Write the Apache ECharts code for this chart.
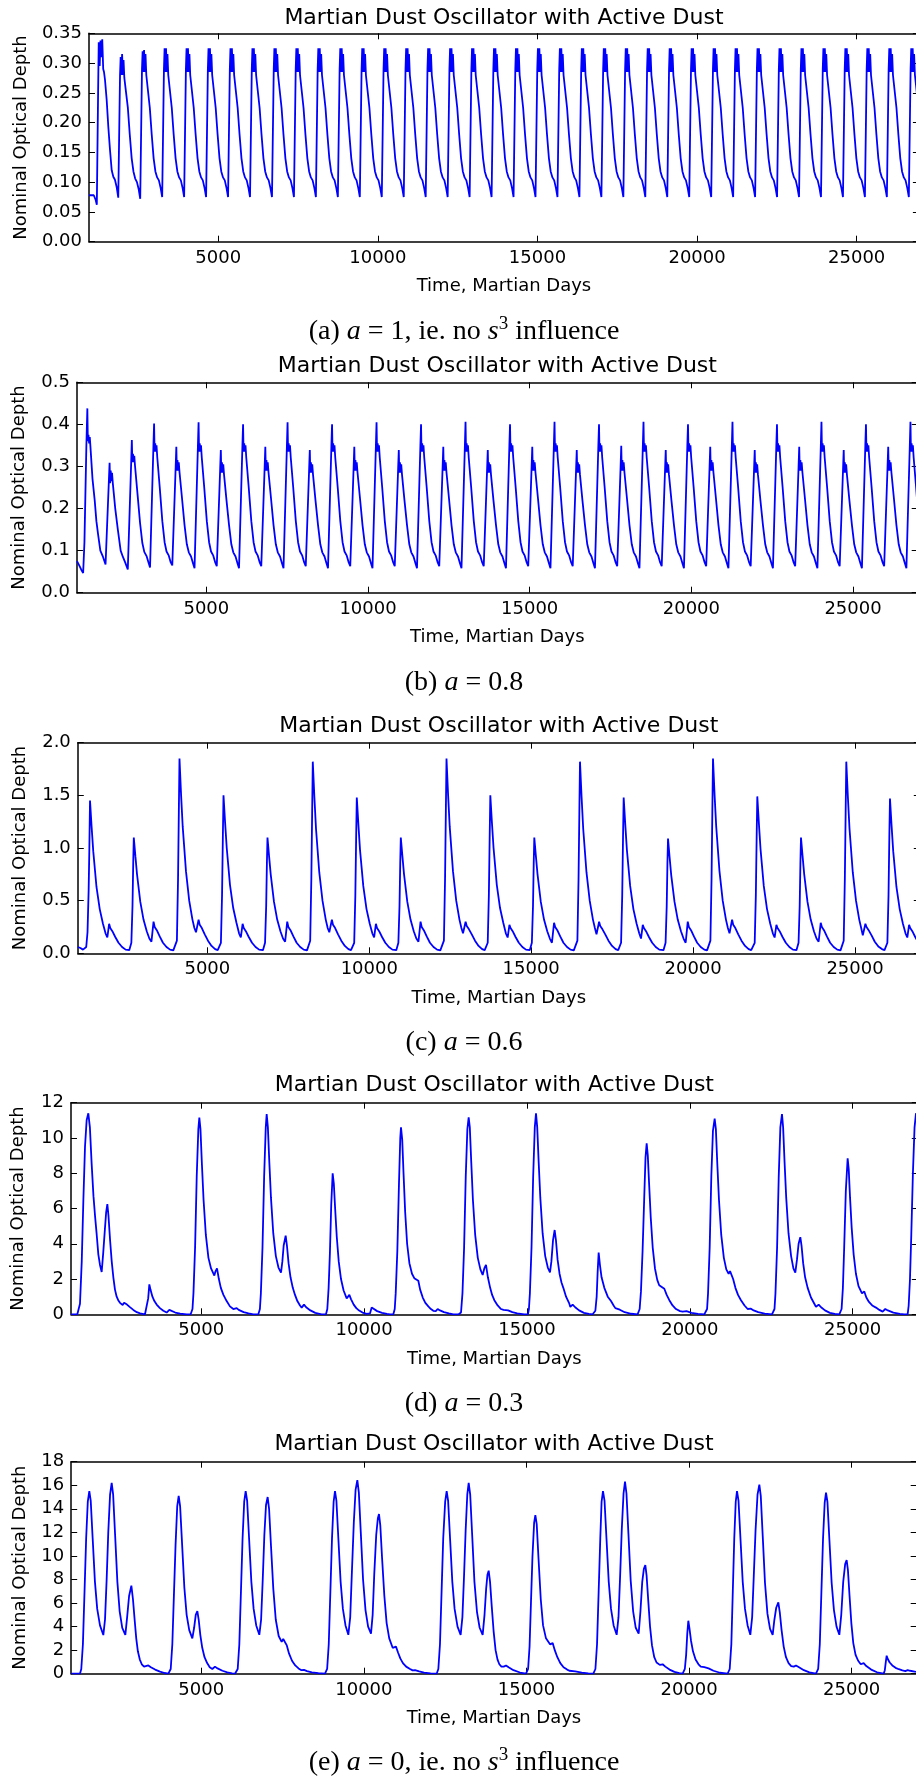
<!DOCTYPE html>
<html><head><meta charset="utf-8">
<script src="https://cdn.jsdelivr.net/npm/echarts@6/dist/echarts.min.js"></script>
<style>html,body{margin:0;padding:0;background:#fff}#c{width:916px;height:1780px}</style>
</head><body><div id="c"></div>
<script>
const xTickValues = [5000, 10000, 15000, 20000, 25000];
const chartTitle = 'Martian Dust Oscillator with Active Dust';
const xAxisTitle = 'Time, Martian Days';
const yAxisTitle = 'Nominal Optical Depth';
const captions = [
  '(a) {i|a} = 1, ie. no {i|s}{sup|3} influence',
  '(b) {i|a} = 0.8',
  '(c) {i|a} = 0.6',
  '(d) {i|a} = 0.3',
  '(e) {i|a} = 0, ie. no {i|s}{sup|3} influence'
];

// (a) a = 1  : [day, depth]
const depthA = [
[950,0.078],[1100,0.078],[1160,0.07],[1195,0.062],[1235,0.25],[1255,0.335],[1285,0.295],[1310,0.338],[1335,0.31],[1365,0.34],[1395,0.29],[1420,0.285],[1451,0.272],[1504,0.238],[1555,0.193],[1608,0.154],[1661,0.12],[1712,0.109],[1763,0.104],[1816,0.092],
[1867,0.074],[1922,0.28],[1942,0.31],[1962,0.28],[1987,0.315],[2012,0.28],[2032,0.305],[2057,0.275],[2167,0.225],[2227,0.18],[2287,0.14],[2342,0.118],[2397,0.106],[2452,0.1],[2507,0.088],
[2555,0.072],[2610,0.29],[2630,0.32],[2650,0.285],[2675,0.322],[2700,0.285],[2720,0.315],[2745,0.28],[2855,0.225],[2915,0.18],[2975,0.14],[3030,0.118],[3085,0.108],[3140,0.103],[3195,0.09],
[3243,0.075],[3298,0.29],[3318,0.325],[3338,0.285],[3363,0.325],[3388,0.285],[3408,0.315],[3433,0.28],[3543,0.225],[3603,0.18],[3663,0.14],[3718,0.118],[3773,0.108],[3828,0.103],[3883,0.09],
[3931,0.075],[3986,0.29],[4006,0.325],[4026,0.285],[4051,0.325],[4076,0.285],[4096,0.315],[4121,0.28],[4231,0.225],[4291,0.18],[4351,0.14],[4406,0.118],[4461,0.108],[4516,0.103],[4571,0.09],
[4619,0.075],[4674,0.29],[4694,0.325],[4714,0.285],[4739,0.325],[4764,0.285],[4784,0.315],[4809,0.28],[4919,0.225],[4979,0.18],[5039,0.14],[5094,0.118],[5149,0.108],[5204,0.103],[5259,0.09],
[5307,0.075],[5362,0.29],[5382,0.325],[5402,0.285],[5427,0.325],[5452,0.285],[5472,0.315],[5497,0.28],[5607,0.225],[5667,0.18],[5727,0.14],[5782,0.118],[5837,0.108],[5892,0.103],[5947,0.09],
[5995,0.075],[6050,0.29],[6070,0.325],[6090,0.285],[6115,0.325],[6140,0.285],[6160,0.315],[6185,0.28],[6295,0.225],[6355,0.18],[6415,0.14],[6470,0.118],[6525,0.108],[6580,0.103],[6635,0.09],
[6683,0.075],[6738,0.29],[6758,0.325],[6778,0.285],[6803,0.325],[6828,0.285],[6848,0.315],[6873,0.28],[6983,0.225],[7043,0.18],[7103,0.14],[7158,0.118],[7213,0.108],[7268,0.103],[7323,0.09],
[7371,0.075],[7426,0.29],[7446,0.325],[7466,0.285],[7491,0.325],[7516,0.285],[7536,0.315],[7561,0.28],[7671,0.225],[7731,0.18],[7791,0.14],[7846,0.118],[7901,0.108],[7956,0.103],[8011,0.09],
[8059,0.075],[8114,0.29],[8134,0.325],[8154,0.285],[8179,0.325],[8204,0.285],[8224,0.315],[8249,0.28],[8359,0.225],[8419,0.18],[8479,0.14],[8534,0.118],[8589,0.108],[8644,0.103],[8699,0.09],
[8747,0.075],[8802,0.29],[8822,0.325],[8842,0.285],[8867,0.325],[8892,0.285],[8912,0.315],[8937,0.28],[9047,0.225],[9107,0.18],[9167,0.14],[9222,0.118],[9277,0.108],[9332,0.103],[9387,0.09],
[9435,0.075],[9490,0.29],[9510,0.325],[9530,0.285],[9555,0.325],[9580,0.285],[9600,0.315],[9625,0.28],[9735,0.225],[9795,0.18],[9855,0.14],[9910,0.118],[9965,0.108],[10020,0.103],[10075,0.09],
[10123,0.075],[10178,0.29],[10198,0.325],[10218,0.285],[10243,0.325],[10268,0.285],[10288,0.315],[10313,0.28],[10423,0.225],[10483,0.18],[10543,0.14],[10598,0.118],[10653,0.108],[10708,0.103],[10763,0.09],
[10811,0.075],[10866,0.29],[10886,0.325],[10906,0.285],[10931,0.325],[10956,0.285],[10976,0.315],[11001,0.28],[11111,0.225],[11171,0.18],[11231,0.14],[11286,0.118],[11341,0.108],[11396,0.103],[11451,0.09],
[11499,0.075],[11554,0.29],[11574,0.325],[11594,0.285],[11619,0.325],[11644,0.285],[11664,0.315],[11689,0.28],[11799,0.225],[11859,0.18],[11919,0.14],[11974,0.118],[12029,0.108],[12084,0.103],[12139,0.09],
[12187,0.075],[12242,0.29],[12262,0.325],[12282,0.285],[12307,0.325],[12332,0.285],[12352,0.315],[12377,0.28],[12487,0.225],[12547,0.18],[12607,0.14],[12662,0.118],[12717,0.108],[12772,0.103],[12827,0.09],
[12875,0.075],[12930,0.29],[12950,0.325],[12970,0.285],[12995,0.325],[13020,0.285],[13040,0.315],[13065,0.28],[13175,0.225],[13235,0.18],[13295,0.14],[13350,0.118],[13405,0.108],[13460,0.103],[13515,0.09],
[13563,0.075],[13618,0.29],[13638,0.325],[13658,0.285],[13683,0.325],[13708,0.285],[13728,0.315],[13753,0.28],[13863,0.225],[13923,0.18],[13983,0.14],[14038,0.118],[14093,0.108],[14148,0.103],[14203,0.09],
[14251,0.075],[14306,0.29],[14326,0.325],[14346,0.285],[14371,0.325],[14396,0.285],[14416,0.315],[14441,0.28],[14551,0.225],[14611,0.18],[14671,0.14],[14726,0.118],[14781,0.108],[14836,0.103],[14891,0.09],
[14939,0.075],[14994,0.29],[15014,0.325],[15034,0.285],[15059,0.325],[15084,0.285],[15104,0.315],[15129,0.28],[15239,0.225],[15299,0.18],[15359,0.14],[15414,0.118],[15469,0.108],[15524,0.103],[15579,0.09],
[15627,0.075],[15682,0.29],[15702,0.325],[15722,0.285],[15747,0.325],[15772,0.285],[15792,0.315],[15817,0.28],[15927,0.225],[15987,0.18],[16047,0.14],[16102,0.118],[16157,0.108],[16212,0.103],[16267,0.09],
[16315,0.075],[16370,0.29],[16390,0.325],[16410,0.285],[16435,0.325],[16460,0.285],[16480,0.315],[16505,0.28],[16615,0.225],[16675,0.18],[16735,0.14],[16790,0.118],[16845,0.108],[16900,0.103],[16955,0.09],
[17003,0.075],[17058,0.29],[17078,0.325],[17098,0.285],[17123,0.325],[17148,0.285],[17168,0.315],[17193,0.28],[17303,0.225],[17363,0.18],[17423,0.14],[17478,0.118],[17533,0.108],[17588,0.103],[17643,0.09],
[17691,0.075],[17746,0.29],[17766,0.325],[17786,0.285],[17811,0.325],[17836,0.285],[17856,0.315],[17881,0.28],[17991,0.225],[18051,0.18],[18111,0.14],[18166,0.118],[18221,0.108],[18276,0.103],[18331,0.09],
[18379,0.075],[18434,0.29],[18454,0.325],[18474,0.285],[18499,0.325],[18524,0.285],[18544,0.315],[18569,0.28],[18679,0.225],[18739,0.18],[18799,0.14],[18854,0.118],[18909,0.108],[18964,0.103],[19019,0.09],
[19067,0.075],[19122,0.29],[19142,0.325],[19162,0.285],[19187,0.325],[19212,0.285],[19232,0.315],[19257,0.28],[19367,0.225],[19427,0.18],[19487,0.14],[19542,0.118],[19597,0.108],[19652,0.103],[19707,0.09],
[19755,0.075],[19810,0.29],[19830,0.325],[19850,0.285],[19875,0.325],[19900,0.285],[19920,0.315],[19945,0.28],[20055,0.225],[20115,0.18],[20175,0.14],[20230,0.118],[20285,0.108],[20340,0.103],[20395,0.09],
[20443,0.075],[20498,0.29],[20518,0.325],[20538,0.285],[20563,0.325],[20588,0.285],[20608,0.315],[20633,0.28],[20743,0.225],[20803,0.18],[20863,0.14],[20918,0.118],[20973,0.108],[21028,0.103],[21083,0.09],
[21131,0.075],[21186,0.29],[21206,0.325],[21226,0.285],[21251,0.325],[21276,0.285],[21296,0.315],[21321,0.28],[21431,0.225],[21491,0.18],[21551,0.14],[21606,0.118],[21661,0.108],[21716,0.103],[21771,0.09],
[21819,0.075],[21874,0.29],[21894,0.325],[21914,0.285],[21939,0.325],[21964,0.285],[21984,0.315],[22009,0.28],[22119,0.225],[22179,0.18],[22239,0.14],[22294,0.118],[22349,0.108],[22404,0.103],[22459,0.09],
[22507,0.075],[22562,0.29],[22582,0.325],[22602,0.285],[22627,0.325],[22652,0.285],[22672,0.315],[22697,0.28],[22807,0.225],[22867,0.18],[22927,0.14],[22982,0.118],[23037,0.108],[23092,0.103],[23147,0.09],
[23195,0.075],[23250,0.29],[23270,0.325],[23290,0.285],[23315,0.325],[23340,0.285],[23360,0.315],[23385,0.28],[23495,0.225],[23555,0.18],[23615,0.14],[23670,0.118],[23725,0.108],[23780,0.103],[23835,0.09],
[23883,0.075],[23938,0.29],[23958,0.325],[23978,0.285],[24003,0.325],[24028,0.285],[24048,0.315],[24073,0.28],[24183,0.225],[24243,0.18],[24303,0.14],[24358,0.118],[24413,0.108],[24468,0.103],[24523,0.09],
[24571,0.075],[24626,0.29],[24646,0.325],[24666,0.285],[24691,0.325],[24716,0.285],[24736,0.315],[24761,0.28],[24871,0.225],[24931,0.18],[24991,0.14],[25046,0.118],[25101,0.108],[25156,0.103],[25211,0.09],
[25259,0.075],[25314,0.29],[25334,0.325],[25354,0.285],[25379,0.325],[25404,0.285],[25424,0.315],[25449,0.28],[25559,0.225],[25619,0.18],[25679,0.14],[25734,0.118],[25789,0.108],[25844,0.103],[25899,0.09],
[25947,0.075],[26002,0.29],[26022,0.325],[26042,0.285],[26067,0.325],[26092,0.285],[26112,0.315],[26137,0.28],[26247,0.225],[26307,0.18],[26367,0.14],[26422,0.118],[26477,0.108],[26532,0.103],[26587,0.09],
[26635,0.075],[26690,0.29],[26710,0.325],[26730,0.285],[26755,0.325],[26780,0.285],[26800,0.315],[26825,0.28],[26935,0.225],[26995,0.18]
];

// (b) a = 0.8
const depthB = [
[1000,0.075],[1080,0.063],[1150,0.052],[1190,0.047],[1230,0.12],[1290,0.35],[1320,0.438],[1335,0.36],[1355,0.375],[1375,0.355],[1395,0.37],[1413,0.35],[1480,0.27],[1547,0.22],[1600,0.17],[1650,0.14],[1722,0.1],[1805,0.085],
[1883,0.067],[1988,0.27],[2008,0.309],[2023,0.26],[2043,0.29],[2063,0.265],[2083,0.285],[2108,0.26],[2183,0.2],[2263,0.15],[2350,0.1],[2420,0.085],[2490,0.072],
[2571,0.055],[2676,0.31],[2696,0.363],[2711,0.31],[2731,0.33],[2751,0.31],[2771,0.325],[2796,0.3],[2871,0.235],[2951,0.165],[3021,0.118],[3081,0.097],[3151,0.087],[3211,0.072],
[3259,0.06],[3364,0.35],[3384,0.402],[3399,0.335],[3419,0.355],[3439,0.335],[3459,0.35],[3484,0.32],[3559,0.25],[3639,0.17],[3709,0.12],[3769,0.098],[3839,0.088],[3899,0.072],
[3947,0.065],[4052,0.3],[4072,0.347],[4087,0.29],[4107,0.315],[4127,0.29],[4147,0.31],[4172,0.285],[4247,0.225],[4327,0.16],[4397,0.115],[4457,0.096],[4527,0.086],[4587,0.07],
[4635,0.058],[4740,0.35],[4760,0.405],[4775,0.335],[4795,0.355],[4815,0.335],[4835,0.35],[4860,0.32],[4935,0.25],[5015,0.17],[5085,0.12],[5145,0.098],[5215,0.088],[5275,0.072],
[5323,0.063],[5428,0.295],[5448,0.339],[5463,0.285],[5483,0.31],[5503,0.285],[5523,0.305],[5548,0.28],[5623,0.22],[5703,0.16],[5773,0.115],[5833,0.096],[5903,0.086],[5963,0.07],
[6011,0.058],[6116,0.35],[6136,0.4],[6151,0.335],[6171,0.355],[6191,0.335],[6211,0.35],[6236,0.32],[6311,0.25],[6391,0.17],[6461,0.12],[6521,0.098],[6591,0.088],[6651,0.072],
[6699,0.063],[6804,0.3],[6824,0.347],[6839,0.29],[6859,0.315],[6879,0.29],[6899,0.31],[6924,0.285],[6999,0.225],[7079,0.16],[7149,0.115],[7209,0.096],[7279,0.086],[7339,0.07],
[7387,0.058],[7492,0.35],[7512,0.405],[7527,0.335],[7547,0.355],[7567,0.335],[7587,0.35],[7612,0.32],[7687,0.25],[7767,0.17],[7837,0.12],[7897,0.098],[7967,0.088],[8027,0.072],
[8075,0.063],[8180,0.295],[8200,0.339],[8215,0.285],[8235,0.31],[8255,0.285],[8275,0.305],[8300,0.28],[8375,0.22],[8455,0.16],[8525,0.115],[8585,0.096],[8655,0.086],[8715,0.07],
[8763,0.058],[8868,0.35],[8888,0.4],[8903,0.335],[8923,0.355],[8943,0.335],[8963,0.35],[8988,0.32],[9063,0.25],[9143,0.17],[9213,0.12],[9273,0.098],[9343,0.088],[9403,0.072],
[9451,0.063],[9556,0.3],[9576,0.347],[9591,0.29],[9611,0.315],[9631,0.29],[9651,0.31],[9676,0.285],[9751,0.225],[9831,0.16],[9901,0.115],[9961,0.096],[10031,0.086],[10091,0.07],
[10139,0.058],[10244,0.35],[10264,0.405],[10279,0.335],[10299,0.355],[10319,0.335],[10339,0.35],[10364,0.32],[10439,0.25],[10519,0.17],[10589,0.12],[10649,0.098],[10719,0.088],[10779,0.072],
[10827,0.063],[10932,0.295],[10952,0.339],[10967,0.285],[10987,0.31],[11007,0.285],[11027,0.305],[11052,0.28],[11127,0.22],[11207,0.16],[11277,0.115],[11337,0.096],[11407,0.086],[11467,0.07],
[11515,0.058],[11620,0.35],[11640,0.4],[11655,0.335],[11675,0.355],[11695,0.335],[11715,0.35],[11740,0.32],[11815,0.25],[11895,0.17],[11965,0.12],[12025,0.098],[12095,0.088],[12155,0.072],
[12203,0.063],[12308,0.3],[12328,0.347],[12343,0.29],[12363,0.315],[12383,0.29],[12403,0.31],[12428,0.285],[12503,0.225],[12583,0.16],[12653,0.115],[12713,0.096],[12783,0.086],[12843,0.07],
[12891,0.058],[12996,0.35],[13016,0.406],[13031,0.335],[13051,0.355],[13071,0.335],[13091,0.35],[13116,0.32],[13191,0.25],[13271,0.17],[13341,0.12],[13401,0.098],[13471,0.088],[13531,0.072],
[13579,0.063],[13684,0.295],[13704,0.339],[13719,0.285],[13739,0.31],[13759,0.285],[13779,0.305],[13804,0.28],[13879,0.22],[13959,0.16],[14029,0.115],[14089,0.096],[14159,0.086],[14219,0.07],
[14267,0.058],[14372,0.35],[14392,0.4],[14407,0.335],[14427,0.355],[14447,0.335],[14467,0.35],[14492,0.32],[14567,0.25],[14647,0.17],[14717,0.12],[14777,0.098],[14847,0.088],[14907,0.072],
[14955,0.063],[15060,0.3],[15080,0.347],[15095,0.29],[15115,0.315],[15135,0.29],[15155,0.31],[15180,0.285],[15255,0.225],[15335,0.16],[15405,0.115],[15465,0.096],[15535,0.086],[15595,0.07],
[15643,0.058],[15748,0.35],[15768,0.406],[15783,0.335],[15803,0.355],[15823,0.335],[15843,0.35],[15868,0.32],[15943,0.25],[16023,0.17],[16093,0.12],[16153,0.098],[16223,0.088],[16283,0.072],
[16331,0.063],[16436,0.295],[16456,0.339],[16471,0.285],[16491,0.31],[16511,0.285],[16531,0.305],[16556,0.28],[16631,0.22],[16711,0.16],[16781,0.115],[16841,0.096],[16911,0.086],[16971,0.07],
[17019,0.058],[17124,0.35],[17144,0.4],[17159,0.335],[17179,0.355],[17199,0.335],[17219,0.35],[17244,0.32],[17319,0.25],[17399,0.17],[17469,0.12],[17529,0.098],[17599,0.088],[17659,0.072],
[17707,0.063],[17812,0.3],[17832,0.349],[17847,0.29],[17867,0.315],[17887,0.29],[17907,0.31],[17932,0.285],[18007,0.225],[18087,0.16],[18157,0.115],[18217,0.096],[18287,0.086],[18347,0.07],
[18395,0.058],[18500,0.35],[18520,0.406],[18535,0.335],[18555,0.355],[18575,0.335],[18595,0.35],[18620,0.32],[18695,0.25],[18775,0.17],[18845,0.12],[18905,0.098],[18975,0.088],[19035,0.072],
[19083,0.063],[19188,0.295],[19208,0.339],[19223,0.285],[19243,0.31],[19263,0.285],[19283,0.305],[19308,0.28],[19383,0.22],[19463,0.16],[19533,0.115],[19593,0.096],[19663,0.086],[19723,0.07],
[19771,0.058],[19876,0.35],[19896,0.4],[19911,0.335],[19931,0.355],[19951,0.335],[19971,0.35],[19996,0.32],[20071,0.25],[20151,0.17],[20221,0.12],[20281,0.098],[20351,0.088],[20411,0.072],
[20459,0.063],[20564,0.3],[20584,0.347],[20599,0.29],[20619,0.315],[20639,0.29],[20659,0.31],[20684,0.285],[20759,0.225],[20839,0.16],[20909,0.115],[20969,0.096],[21039,0.086],[21099,0.07],
[21147,0.058],[21252,0.35],[21272,0.406],[21287,0.335],[21307,0.355],[21327,0.335],[21347,0.35],[21372,0.32],[21447,0.25],[21527,0.17],[21597,0.12],[21657,0.098],[21727,0.088],[21787,0.072],
[21835,0.063],[21940,0.295],[21960,0.339],[21975,0.285],[21995,0.31],[22015,0.285],[22035,0.305],[22060,0.28],[22135,0.22],[22215,0.16],[22285,0.115],[22345,0.096],[22415,0.086],[22475,0.07],
[22523,0.058],[22628,0.35],[22648,0.4],[22663,0.335],[22683,0.355],[22703,0.335],[22723,0.35],[22748,0.32],[22823,0.25],[22903,0.17],[22973,0.12],[23033,0.098],[23103,0.088],[23163,0.072],
[23211,0.063],[23316,0.3],[23336,0.347],[23351,0.29],[23371,0.315],[23391,0.29],[23411,0.31],[23436,0.285],[23511,0.225],[23591,0.16],[23661,0.115],[23721,0.096],[23791,0.086],[23851,0.07],
[23899,0.058],[24004,0.35],[24024,0.406],[24039,0.335],[24059,0.355],[24079,0.335],[24099,0.35],[24124,0.32],[24199,0.25],[24279,0.17],[24349,0.12],[24409,0.098],[24479,0.088],[24539,0.072],
[24587,0.063],[24692,0.295],[24712,0.339],[24727,0.285],[24747,0.31],[24767,0.285],[24787,0.305],[24812,0.28],[24887,0.22],[24967,0.16],[25037,0.115],[25097,0.096],[25167,0.086],[25227,0.07],
[25275,0.058],[25380,0.35],[25400,0.4],[25415,0.335],[25435,0.355],[25455,0.335],[25475,0.35],[25500,0.32],[25575,0.25],[25655,0.17],[25725,0.12],[25785,0.098],[25855,0.088],[25915,0.072],
[25963,0.063],[26068,0.3],[26088,0.347],[26103,0.29],[26123,0.315],[26143,0.29],[26163,0.31],[26188,0.285],[26263,0.225],[26343,0.16],[26413,0.115],[26473,0.096],[26543,0.086],[26603,0.07],
[26651,0.058],[26756,0.35],[26776,0.406],[26791,0.335],[26811,0.355],[26831,0.335],[26851,0.35],[26876,0.32],[26951,0.25],[27031,0.17]
];

// (c) a = 0.6
const depthC = [
[1000,0.06],[1080,0.05],[1160,0.035],[1220,0.03],[1260,0.06],[1300,0.2],[1335,0.6],[1357,1.0],[1377,1.45],
[1427,1.2],[1477,0.97],[1577,0.63],[1677,0.42],[1777,0.28],[1857,0.19],[1912,0.15],[1967,0.28],[2002,0.24],[2067,0.21],[2157,0.155],[2257,0.1],[2367,0.06],[2477,0.035],
[2589,0.03],[2654,0.1],[2689,0.45],[2711,0.85],[2729,1.1],
[2779,0.92],[2829,0.75],[2929,0.49],[3029,0.32],[3129,0.21],[3209,0.14],[3274,0.11],[3339,0.3],[3374,0.25],[3439,0.22],[3529,0.16],[3629,0.1],[3739,0.06],[3849,0.035],[3949,0.028],
[3990,0.03],[4060,0.12],[4095,0.7],[4120,1.35],[4140,1.85],
[4190,1.5],[4240,1.2],[4340,0.78],[4440,0.5],[4540,0.32],[4600,0.24],[4650,0.2],[4730,0.32],[4765,0.27],[4830,0.24],[4920,0.18],[5020,0.12],[5130,0.07],[5240,0.04],[5320,0.03],
[5359,0.03],[5419,0.1],[5454,0.55],[5479,1.1],[5499,1.5],
[5549,1.24],[5599,1.0],[5699,0.65],[5799,0.43],[5899,0.29],[5979,0.19],[6034,0.15],[6089,0.28],[6124,0.24],[6189,0.21],[6279,0.155],[6379,0.1],[6489,0.06],[6599,0.035],
[6717,0.03],[6782,0.1],[6817,0.45],[6839,0.85],[6857,1.1],
[6907,0.92],[6957,0.75],[7057,0.49],[7157,0.32],[7257,0.21],[7337,0.14],[7402,0.11],[7467,0.3],[7502,0.25],[7567,0.22],[7657,0.16],[7757,0.1],[7867,0.06],[7977,0.035],[8077,0.028],
[8106,0.03],[8176,0.12],[8211,0.7],[8236,1.33],[8256,1.82],
[8306,1.48],[8356,1.18],[8456,0.77],[8556,0.5],[8656,0.32],[8716,0.24],[8766,0.2],[8846,0.32],[8881,0.27],[8946,0.24],[9036,0.18],[9136,0.12],[9246,0.07],[9356,0.04],[9436,0.03],
[9475,0.03],[9535,0.1],[9570,0.55],[9595,1.1],[9615,1.48],
[9665,1.22],[9715,0.98],[9815,0.64],[9915,0.42],[10015,0.28],[10095,0.19],[10150,0.15],[10205,0.28],[10240,0.24],[10305,0.21],[10395,0.155],[10495,0.1],[10605,0.06],[10715,0.035],
[10834,0.03],[10899,0.1],[10934,0.45],[10956,0.85],[10974,1.1],
[11024,0.92],[11074,0.75],[11174,0.49],[11274,0.32],[11374,0.21],[11454,0.14],[11519,0.11],[11584,0.3],[11619,0.25],[11684,0.22],[11774,0.16],[11874,0.1],[11984,0.06],[12094,0.035],[12194,0.028],
[12235,0.03],[12305,0.12],[12340,0.7],[12365,1.35],[12385,1.85],
[12435,1.5],[12485,1.2],[12585,0.78],[12685,0.5],[12785,0.32],[12845,0.24],[12895,0.19],[12975,0.3],[13010,0.26],[13075,0.23],[13165,0.18],[13265,0.12],[13375,0.07],[13485,0.04],[13565,0.03],
[13598,0.03],[13658,0.1],[13693,0.55],[13718,1.1],[13738,1.5],
[13788,1.24],[13838,1.0],[13938,0.65],[14038,0.43],[14138,0.29],[14218,0.19],[14273,0.15],[14328,0.27],[14363,0.24],[14428,0.21],[14518,0.155],[14618,0.1],[14728,0.06],[14838,0.035],
[14956,0.03],[15021,0.1],[15056,0.45],[15078,0.85],[15096,1.1],
[15146,0.92],[15196,0.75],[15296,0.49],[15396,0.32],[15496,0.21],[15576,0.14],[15641,0.1],[15706,0.29],[15741,0.25],[15806,0.22],[15896,0.16],[15996,0.1],[16106,0.06],[16216,0.035],[16316,0.028],
[16357,0.03],[16427,0.12],[16462,0.7],[16487,1.33],[16507,1.82],
[16557,1.48],[16607,1.18],[16707,0.77],[16807,0.5],[16907,0.32],[16967,0.24],[17017,0.18],[17097,0.3],[17132,0.26],[17197,0.23],[17287,0.18],[17387,0.12],[17497,0.07],[17607,0.04],[17687,0.03],
[17716,0.03],[17776,0.1],[17811,0.55],[17836,1.1],[17856,1.48],
[17906,1.22],[17956,0.98],[18056,0.64],[18156,0.42],[18256,0.28],[18336,0.19],[18391,0.14],[18446,0.27],[18481,0.24],[18546,0.21],[18636,0.155],[18736,0.1],[18846,0.06],[18956,0.035],
[19085,0.03],[19150,0.1],[19185,0.45],[19207,0.85],[19225,1.09],
[19275,0.91],[19325,0.74],[19425,0.49],[19525,0.32],[19625,0.21],[19705,0.14],[19770,0.1],[19835,0.3],[19870,0.25],[19935,0.22],[20025,0.16],[20125,0.1],[20235,0.06],[20345,0.035],[20430,0.028],
[20464,0.03],[20534,0.12],[20569,0.7],[20594,1.35],[20614,1.85],
[20664,1.5],[20714,1.2],[20814,0.78],[20914,0.5],[21014,0.32],[21074,0.24],[21124,0.19],[21204,0.32],[21239,0.27],[21304,0.24],[21394,0.18],[21494,0.12],[21604,0.07],[21714,0.04],[21794,0.03],
[21842,0.03],[21902,0.1],[21937,0.55],[21962,1.1],[21982,1.49],
[22032,1.23],[22082,0.99],[22182,0.64],[22282,0.42],[22382,0.28],[22462,0.19],[22517,0.15],[22572,0.27],[22607,0.24],[22672,0.21],[22762,0.155],[22862,0.1],[22972,0.06],[23082,0.035],
[23191,0.03],[23256,0.1],[23291,0.45],[23313,0.85],[23331,1.1],
[23381,0.92],[23431,0.75],[23531,0.49],[23631,0.32],[23731,0.21],[23811,0.14],[23876,0.11],[23941,0.29],[23976,0.25],[24041,0.22],[24131,0.16],[24231,0.1],[24341,0.06],[24451,0.035],[24551,0.028],
[24580,0.03],[24650,0.12],[24685,0.7],[24710,1.33],[24730,1.82],
[24780,1.48],[24830,1.18],[24930,0.77],[25030,0.5],[25130,0.32],[25190,0.24],[25240,0.17],[25320,0.28],[25355,0.25],[25420,0.22],[25510,0.17],[25610,0.11],[25720,0.065],[25830,0.04],[25910,0.03],
[25939,0.03],[25999,0.1],[26034,0.55],[26059,1.1],[26079,1.47],
[26129,1.21],[26179,0.97],[26279,0.63],[26379,0.42],[26479,0.28],[26559,0.19],[26614,0.15],[26669,0.27],[26704,0.24],[26769,0.21],[26859,0.155],[26959,0.1],[27050,0.07]
];

// (d) a = 0.3
const depthD = [
[1000,0],[1194,0],[1276,0.6],[1330,3],[1380,6.5],[1430,9.5],[1480,11],[1532,11.4],[1580,10.6],[1635,8.5],[1690,6.7],[1737,5.6],[1790,4.5],[1839,3.4],[1890,2.8],[1942,2.4],[1990,3.5],[2040,4.8],[2080,5.8],[2116,6.25],[2150,5.6],[2200,4.2],[2250,3],[2300,2.1],[2350,1.4],[2402,1],[2450,0.8],[2504,0.65],[2586,0.53],[2630,0.65],[2658,0.72],[2720,0.55],[2800,0.42],[2914,0.25],[3020,0.12],[3119,0.05],[3272,0],
[3320,0.1],[3370,0.9],[3405,1.7],[3440,1.4],[3500,1],[3560,0.75],[3630,0.55],[3730,0.35],[3835,0.2],[3937,0.1],[3980,0.12],[4019,0.25],[4080,0.18],[4200,0.1],[4350,0.04],[4551,0],[4674,0],
[4730,0.3],[4760,1.2],[4810,3.8],[4860,7.8],[4910,10.5],[4940,11.15],[4975,10.5],[5020,8.5],[5070,6.5],[5140,4.5],[5220,3.2],[5300,2.6],[5401,2.2],[5440,2.45],[5483,2.6],[5540,2],[5600,1.5],[5680,1.1],[5779,0.75],[5880,0.45],[5984,0.3],[6035,0.22],[6087,0.35],[6150,0.25],[6300,0.12],[6450,0.05],[6598,0],[6752,0],
[6800,0.3],[6830,1.2],[6880,3.8],[6930,7.8],[6980,10.6],[7008,11.35],[7045,10.6],[7090,8.6],[7140,6.6],[7210,4.6],[7290,3.3],[7370,2.65],[7448,2.36],[7490,3],[7530,3.9],[7591,4.46],[7630,3.9],[7680,2.9],[7740,2.1],[7810,1.5],[7878,1.1],[7950,0.75],[8031,0.5],[8082,0.38],[8154,0.55],[8220,0.4],[8350,0.22],[8500,0.08],[8696,0],[8829,0],
[8870,0.3],[8910,1.5],[8950,3.5],[8990,6.2],[9034,8],[9070,7.4],[9110,6],[9160,4.4],[9220,3],[9290,2],[9370,1.35],[9464,0.9],[9500,1],[9546,1.1],[9600,0.85],[9680,0.55],[9760,0.35],[9822,0.25],[9950,0.1],[10078,0.02],[10180,0.05],[10232,0.38],[10290,0.3],[10400,0.18],[10550,0.08],[10700,0.02],[10794,0],[10897,0],
[10940,0.3],[10970,1.2],[11020,3.6],[11070,7.4],[11110,10],[11132,10.6],[11170,9.9],[11210,8],[11260,5.8],[11320,4],[11390,2.9],[11470,2.3],[11540,2.05],[11593,1.95],[11664,1.9],[11720,1.4],[11800,0.95],[11880,0.65],[11971,0.45],[12050,0.3],[12125,0.2],[12200,0.18],[12258,0.3],[12330,0.22],[12450,0.12],[12600,0.05],[12739,0],[12903,0],
[12975,0.1],[13020,1.2],[13070,3.8],[13120,7.8],[13170,10.5],[13210,11.17],[13245,10.6],[13290,8.6],[13340,6.5],[13410,4.5],[13490,3.2],[13570,2.55],[13640,2.23],[13690,2.6],[13742,2.8],[13800,2.1],[13870,1.5],[13930,1.1],[13998,0.8],[14100,0.5],[14203,0.3],[14280,0.25],[14336,0.32],[14420,0.22],[14550,0.12],[14700,0.05],[14919,0],[15030,0],
[15060,0.3],[15090,1.2],[15140,3.8],[15190,7.8],[15240,10.6],[15277,11.4],[15315,10.6],[15360,8.6],[15410,6.6],[15480,4.6],[15560,3.3],[15640,2.65],[15707,2.38],[15750,3],[15800,4.2],[15850,4.78],[15890,4.2],[15940,3.1],[16000,2.3],[16060,1.8],[16116,1.5],[16200,1],[16301,0.6],[16331,0.42],[16403,0.55],[16480,0.4],[16600,0.22],[16750,0.08],[16900,0.02],[17017,0],[17068,0],
[17100,0.2],[17140,1],[17170,2.4],[17201,3.5],[17240,2.8],[17290,2.1],[17375,1.5],[17480,1],[17580,0.75],[17660,0.5],[17713,0.35],[17764,0.38],[17850,0.26],[18000,0.12],[18200,0.03],[18397,0],[18429,0],
[18460,0.3],[18500,1.3],[18550,3.6],[18600,6.6],[18640,8.9],[18675,9.7],[18710,9],[18750,7.4],[18800,5.5],[18860,3.8],[18930,2.6],[19000,1.95],[19060,1.65],[19115,1.55],[19217,1.45],[19290,1.1],[19371,0.8],[19470,0.5],[19575,0.3],[19700,0.18],[19780,0.15],[19831,0.25],[19900,0.18],[20050,0.08],[20250,0.02],[20445,0],[20497,0],
[20530,0.3],[20560,1.2],[20610,3.8],[20660,7.8],[20710,10.4],[20763,11.1],[20800,10.5],[20845,8.5],[20895,6.5],[20965,4.5],[21045,3.2],[21120,2.55],[21192,2.3],[21235,2.45],[21274,2.55],[21330,2],[21400,1.5],[21480,1.1],[21571,0.8],[21680,0.5],[21776,0.3],[21830,0.25],[21878,0.32],[21960,0.22],[22100,0.12],[22300,0.04],[22523,0],[22564,0],
[22600,0.3],[22630,1.2],[22680,3.8],[22730,7.8],[22780,10.6],[22830,11.36],[22865,10.6],[22910,8.6],[22960,6.6],[23030,4.6],[23110,3.3],[23180,2.6],[23239,2.36],[23290,3.1],[23340,4],[23393,4.37],[23430,3.9],[23480,2.9],[23540,2.1],[23618,1.5],[23720,0.95],[23823,0.6],[23874,0.42],[23956,0.55],[24030,0.4],[24150,0.22],[24300,0.08],[24450,0.02],[24590,0],[24621,0],
[24660,0.3],[24700,1.5],[24740,3.8],[24790,7],[24846,8.85],[24880,8.2],[24920,6.6],[24970,4.9],[25030,3.4],[25100,2.3],[25180,1.6],[25286,1.19],[25320,1.25],[25357,1.29],[25420,0.95],[25500,0.7],[25600,0.5],[25716,0.38],[25820,0.25],[25920,0.15],[25960,0.18],[26002,0.3],[26080,0.22],[26250,0.1],[26450,0.03],[26585,0],[26688,0],
[26720,0.5],[26760,2],[26800,4.5],[26850,8],[26900,10.6],[26944,11.4],[27000,11]
];

// (e) a = 0
const depthE = [
[1000,0],[1270,0],[1310,0.4],[1360,2.5],[1410,7],[1460,11.5],[1510,14.6],[1557,15.5],[1600,14.7],[1660,11.5],[1730,7.8],[1800,5.5],[1885,4.1],[1988,3.28],[2040,4.6],[2090,8],[2140,12],[2195,15.2],[2245,16.2],[2290,15.2],[2350,11.8],[2420,7.8],[2490,5.3],[2570,3.9],[2665,3.3],[2720,4.8],[2780,6.6],[2850,7.47],[2900,6.3],[2950,4.6],[3000,3],[3050,1.9],[3110,1.2],[3170,0.8],[3240,0.6],[3290,0.55],[3372,0.7],[3450,0.55],[3580,0.35],[3730,0.18],[3870,0.06],[3987,0],[4018,0],
[4060,0.4],[4110,2.5],[4160,6.8],[4210,11],[4260,14.2],[4305,15.1],[4350,14.2],[4410,11],[4480,7.3],[4550,5],[4630,3.7],[4725,3],[4780,3.9],[4830,5],[4879,5.32],[4920,4.6],[4970,3.3],[5030,2.2],[5100,1.4],[5180,0.9],[5260,0.55],[5340,0.4],[5422,0.6],[5500,0.45],[5650,0.25],[5800,0.12],[5950,0.03],[6037,0],[6088,0],
[6120,0.4],[6170,2.5],[6220,7],[6270,11.5],[6320,14.6],[6365,15.5],[6410,14.7],[6470,11.5],[6540,7.8],[6610,5.5],[6690,4.1],[6785,3.3],[6840,4.6],[6890,8],[6940,11.8],[6990,14.3],[7041,15],[7085,14],[7145,10.8],[7215,7.2],[7290,4.6],[7380,3.2],[7472,2.7],[7520,2.95],[7575,3.1],[7630,2.4],[7700,1.7],[7790,1.1],[7890,0.7],[7990,0.45],[8080,0.3],[8159,0.32],[8250,0.22],[8400,0.12],[8600,0.04],[8805,0],[8836,0],
[8870,0.4],[8920,2.5],[8970,7],[9020,11.5],[9070,14.6],[9112,15.5],[9155,14.7],[9215,11.5],[9285,7.8],[9355,5.5],[9435,4.1],[9522,3.3],[9580,4.8],[9630,8.5],[9690,12.8],[9745,15.6],[9799,16.44],[9845,15.4],[9905,12],[9975,8],[10050,5.4],[10130,4],[10219,3.4],[10270,5],[10320,8.5],[10380,11.8],[10430,13.2],[10465,13.56],[10505,12.6],[10560,9.8],[10630,6.6],[10700,4.3],[10780,3],[10885,2.2],[10935,2.25],[10987,2.3],[11050,1.8],[11120,1.3],[11200,0.9],[11300,0.6],[11420,0.4],[11500,0.28],[11572,0.3],[11700,0.2],[11850,0.1],[12050,0.03],[12238,0],[12259,0],
[12290,0.4],[12340,2.5],[12390,7],[12440,11.5],[12500,14.6],[12546,15.5],[12590,14.7],[12650,11.5],[12720,7.8],[12790,5.5],[12880,4],[12976,3.3],[13030,4.8],[13080,8.3],[13130,12.2],[13180,15.2],[13223,16.2],[13270,15.2],[13330,11.8],[13400,7.8],[13480,5.2],[13560,3.9],[13653,3.3],[13710,5],[13760,7.2],[13800,8.4],[13838,8.75],[13880,7.8],[13930,5.8],[13990,3.6],[14050,2],[14110,1.2],[14166,0.8],[14230,0.6],[14300,0.6],[14371,0.7],[14450,0.55],[14600,0.3],[14800,0.1],[14986,0],[15016,0],
[15050,0.4],[15095,2.3],[15140,6.2],[15185,10],[15235,12.8],[15273,13.47],[15315,12.7],[15370,9.8],[15440,6.3],[15510,4.1],[15600,3],[15724,2.49],[15770,2.55],[15806,2.6],[15870,2],[15950,1.4],[16040,0.9],[16140,0.55],[16250,0.35],[16320,0.25],[16369,0.3],[16500,0.2],[16700,0.1],[16900,0.03],[17056,0],[17087,0],
[17120,0.4],[17170,2.5],[17220,7],[17270,11.5],[17310,14.6],[17353,15.5],[17400,14.7],[17460,11.5],[17530,7.8],[17600,5.5],[17680,4.1],[17774,3.3],[17830,4.8],[17880,8.3],[17930,12.2],[17985,15.3],[18030,16.3],[18075,15.3],[18135,11.9],[18205,7.9],[18280,5.3],[18360,3.9],[18450,3.4],[18505,5.3],[18560,7.8],[18610,8.9],[18655,9.23],[18695,8.3],[18745,6.2],[18800,4],[18860,2.4],[18930,1.4],[19000,0.95],[19034,0.8],[19100,0.75],[19188,0.8],[19270,0.6],[19400,0.35],[19550,0.15],[19700,0.04],[19803,0],[19834,0],
[19870,0.4],[19910,1.6],[19945,3.4],[19977,4.5],[20010,3.9],[20060,2.8],[20120,1.9],[20200,1.2],[20290,0.8],[20360,0.6],[20418,0.5],[20470,0.55],[20521,0.6],[20600,0.45],[20750,0.25],[20950,0.08],[21187,0],[21218,0],
[21250,0.4],[21300,2.5],[21345,7],[21390,11.5],[21435,14.6],[21474,15.5],[21520,14.7],[21580,11.5],[21650,7.8],[21720,5.5],[21800,4.1],[21884,3.3],[21940,4.8],[21990,8.3],[22045,12.2],[22105,15.2],[22161,16.05],[22205,15.1],[22265,11.7],[22335,7.7],[22410,5.1],[22490,3.8],[22571,3.3],[22620,4.5],[22680,5.6],[22745,6.06],[22790,5.2],[22845,3.7],[22910,2.3],[22980,1.4],[23060,0.9],[23140,0.65],[23220,0.6],[23288,0.7],[23380,0.55],[23530,0.3],[23700,0.12],[23903,0],[23934,0],
[23970,0.4],[24020,2.5],[24070,7],[24120,11.5],[24170,14.5],[24211,15.37],[24255,14.6],[24315,11.4],[24385,7.7],[24455,5.4],[24535,4],[24621,3.3],[24680,5],[24740,7.8],[24800,9.3],[24846,9.65],[24885,8.8],[24935,6.6],[24990,4.3],[25050,2.6],[25120,1.6],[25200,1.1],[25280,0.8],[25330,0.8],[25369,0.9],[25450,0.65],[25600,0.35],[25780,0.12],[25984,0],
[26020,0.3],[26050,1],[26076,1.53],[26110,1.25],[26170,0.95],[26250,0.7],[26350,0.5],[26450,0.38],[26560,0.28],[26650,0.22],[26722,0.3],[26800,0.25],[26978,0.15]
];

// layout / axis configuration for the five stacked panels
const panels = [
  {data: depthA, left: 89,   top: 33.3,   width: 829.9, height: 208.4, xmin: 950,  ymax: 0.35, yint: 0.05, dec: 2, yGap: 59,   titleY: 18.4,   capY: 331.8},
  {data: depthB, left: 77,   top: 382.3,  width: 840.7, height: 210.4, xmin: 1000, ymax: 0.5,  yint: 0.1,  dec: 1, yGap: 48.8, titleY: 365.9,  capY: 682.3},
  {data: depthC, left: 77.8, top: 742.7,  width: 842,   height: 210.6, xmin: 1000, ymax: 2.0,  yint: 0.5,  dec: 1, yGap: 48.5, titleY: 726.4,  capY: 1042.9},
  {data: depthD, left: 71,   top: 1102.7, width: 846.8, height: 211.6, xmin: 1000, ymax: 12,   yint: 2,    dec: 0, yGap: 43.5, titleY: 1085.7, capY: 1403.9},
  {data: depthE, left: 71.2, top: 1461.7, width: 845.5, height: 212,   xmin: 1000, ymax: 18,   yint: 2,    dec: 0, yGap: 41.7, titleY: 1444.7, capY: 1762.3}
];

const sans = 'DejaVu Sans';
const serif = 'Liberation Serif';
const grid = [], xAxis = [], yAxis = [], series = [], graphic = [];
panels.forEach((p, i) => {
  grid.push({left: p.left, top: p.top, width: p.width, height: p.height, containLabel: false, outerBoundsMode: 'none'});
  const axLine = {show: true, onZero: false, lineStyle: {color: '#000', width: 1.5}};
  const tick = {show: true, inside: true, length: 6, lineStyle: {color: '#000', width: 1}};
  const labelStyle = {fontSize: 18, fontFamily: sans, color: '#000'};
  xAxis.push({type: 'value', gridIndex: i, position: 'bottom', min: p.xmin, max: p.xmin + 26000,
    axisLine: axLine, axisTick: Object.assign({}, tick, {customValues: xTickValues}),
    axisLabel: Object.assign({customValues: xTickValues, margin: 7.5, formatter: v => String(Math.round(v))}, labelStyle),
    splitLine: {show: false},
    name: xAxisTitle, nameLocation: 'middle', nameGap: 36, nameTextStyle: labelStyle});
  xAxis.push({type: 'value', gridIndex: i, position: 'top', min: p.xmin, max: p.xmin + 26000,
    axisLine: axLine, axisTick: Object.assign({}, tick, {customValues: xTickValues}),
    axisLabel: {show: false, customValues: xTickValues}, splitLine: {show: false}});
  yAxis.push({type: 'value', gridIndex: i, position: 'left', min: 0, max: p.ymax, interval: p.yint,
    axisLine: axLine, axisTick: tick,
    axisLabel: Object.assign({margin: 7, formatter: v => Number(v).toFixed(p.dec)}, labelStyle),
    splitLine: {show: false},
    name: yAxisTitle, nameLocation: 'middle', nameGap: p.yGap, nameTextStyle: labelStyle});
  yAxis.push({type: 'value', gridIndex: i, position: 'right', min: 0, max: p.ymax, interval: p.yint,
    axisLine: axLine, axisTick: tick, axisLabel: {show: false}, splitLine: {show: false}});
  series.push({type: 'line', xAxisIndex: 2 * i, yAxisIndex: 2 * i, data: p.data,
    showSymbol: false, symbol: 'none', clip: true, animation: false,
    lineStyle: {color: '#0000ff', width: 1.8}, itemStyle: {color: '#0000ff'}});
  graphic.push({type: 'text', x: p.left + p.width / 2, y: p.titleY, z: 10,
    style: {text: chartTitle, fontSize: 22, fontFamily: sans, fill: '#000',
      align: 'center', verticalAlign: 'middle', textAlign: 'center', textVerticalAlign: 'middle'}});
  graphic.push({type: 'text', x: 464, y: p.capY, z: 10,
    style: {text: captions[i], fontSize: 28, fontFamily: serif, fill: '#000', lineHeight: 34,
      align: 'center', verticalAlign: 'middle', textAlign: 'center', textVerticalAlign: 'middle',
      rich: {
        i: {fontSize: 28, fontFamily: serif, fontStyle: 'italic', fill: '#000', lineHeight: 34},
        sup: {fontSize: 19, fontFamily: serif, fill: '#000', lineHeight: 19, verticalAlign: 'top'}
      }}});
});

const chart = echarts.init(document.getElementById('c'), null, {renderer: 'canvas'});
chart.setOption({animation: false, backgroundColor: '#fff', grid, xAxis, yAxis, series, graphic});
</script>
</body></html>
